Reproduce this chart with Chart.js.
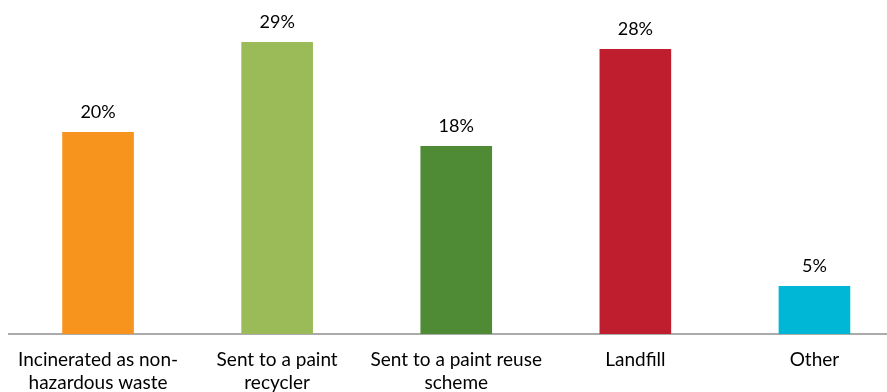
<!DOCTYPE html>
<html>
<head>
<meta charset="utf-8">
<script src="https://cdn.jsdelivr.net/npm/chart.js@4"></script>
<style>
  html, body { margin: 0; padding: 0; background: #fff; overflow: hidden; }
  #wrap { width: 887px; height: 392px; overflow: hidden; position: relative; }
  canvas { display: block; }
</style>
</head>
<body>
<div id="wrap"><canvas id="c" width="904" height="392"></canvas></div>
<script>
const categories = [
  ["Incinerated as non-", "hazardous waste"],
  ["Sent to a paint", "recycler"],
  ["Sent to a paint reuse", "scheme"],
  ["Landfill"],
  ["Other"]
];
const values = [20.05, 29.0, 18.67, 28.3, 4.77];
const valueLabels = ["20%", "29%", "18%", "28%", "5%"];
const barColors = ["#F7941E", "#9BBB59", "#4F8A35", "#BF1E2E", "#00B8D6"];

const FONT_FAMILY = "Lato, 'Open Sans', sans-serif";
const LABEL_SIZE = 18;
const TICK_SIZE = 19;

const valueLabelPlugin = {
  id: 'valueLabels',
  afterDatasetsDraw(chart) {
    const ctx = chart.ctx;
    const meta = chart.getDatasetMeta(0);
    ctx.save();
    ctx.font = LABEL_SIZE + "px " + FONT_FAMILY;
    ctx.fillStyle = "#000";
    ctx.textAlign = "center";
    ctx.textBaseline = "alphabetic";
    meta.data.forEach((bar, i) => {
      ctx.fillText(valueLabels[i], bar.x, bar.y - 14);
    });
    ctx.restore();
  }
};

new Chart(document.getElementById('c'), {
  type: 'bar',
  data: {
    labels: categories,
    datasets: [{
      data: values,
      backgroundColor: barColors,
      borderWidth: 0,
      barPercentage: 0.4,
      categoryPercentage: 1.0
    }]
  },
  options: {
    responsive: false,
    animation: false,
    devicePixelRatio: 1,
    layout: { padding: { left: 8.5, right: 0, top: 0, bottom: 0 } },
    plugins: {
      legend: { display: false },
      tooltip: { enabled: false }
    },
    scales: {
      x: {
        grid: { display: true, drawOnChartArea: false, drawTicks: false },
        border: { display: true, color: "#ababab", width: 2 },
        ticks: {
          color: "#000",
          padding: 14,
          maxRotation: 0,
          autoSkip: false,
          font: { family: FONT_FAMILY, size: TICK_SIZE, lineHeight: 23 / TICK_SIZE }
        },
        afterFit(scale) { scale.height = 58; }
      },
      y: {
        display: false,
        min: 0,
        max: 33.17
      }
    }
  },
  plugins: [valueLabelPlugin]
});
</script>
</body>
</html>
